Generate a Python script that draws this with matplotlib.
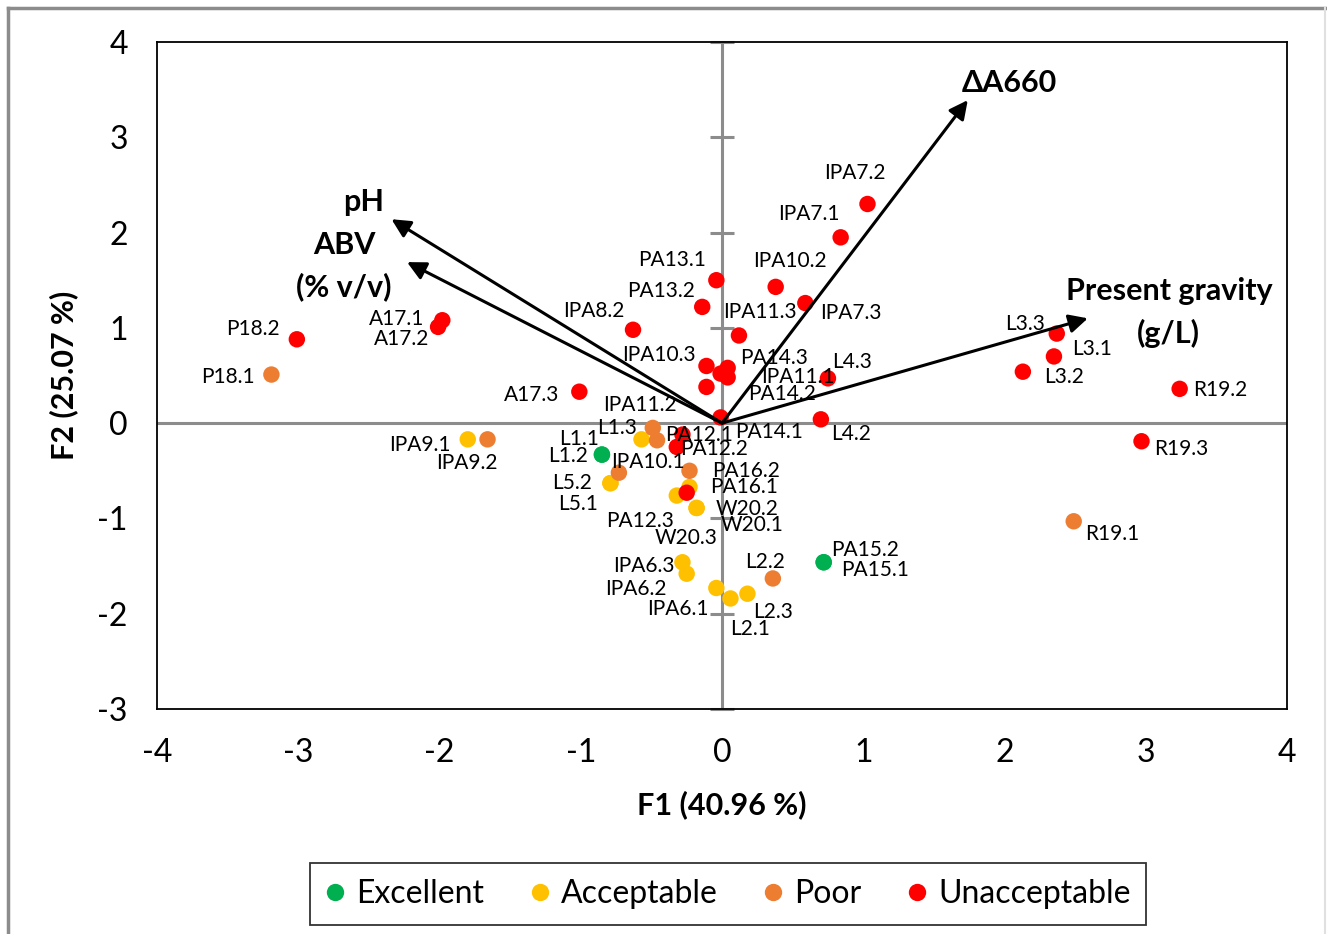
import numpy as np
import matplotlib
matplotlib.use('Agg')
import matplotlib.pyplot as plt
from matplotlib.lines import Line2D

plt.rcParams['font.family'] = ['Lato', 'DejaVu Sans']
plt.rcParams['axes.unicode_minus'] = False

# sample scores (F1, F2) and sensory class
names = ['PA15.2', 'PA15.1', 'L1.1', 'L1.2',
         'IPA9.1', 'L1.3', 'L5.2', 'L5.1', 'PA16.1', 'W20.1', 'W20.2', 'W20.3',
         'IPA6.3', 'IPA6.2', 'IPA6.1', 'L2.1', 'L2.3',
         'P18.1', 'IPA9.2', '', '', 'IPA10.1', 'PA16.2', 'L2.2', 'R19.1',
         'IPA7.2', 'IPA7.1', 'IPA10.2', 'IPA7.3', 'PA13.1', 'PA13.2', 'IPA8.2',
         'IPA11.3', 'IPA10.3', 'PA14.3', 'IPA11.1', 'PA14.2', 'IPA11.2', 'PA14.1',
         'L4.3', 'L4.2', 'A17.3', 'A17.1', 'A17.2', 'P18.2', 'L3.3', 'L3.1', 'L3.2',
         'R19.2', 'R19.3', 'PA12.1', 'PA12.2', 'PA12.3']
f1 = [0.72, 0.72, -0.85, -0.85,
      -1.80, -0.57, -0.79, -0.79, -0.23, -0.32, -0.18, -0.18,
      -0.28, -0.25, -0.04, 0.06, 0.18,
      -3.19, -1.66, -0.49, -0.46, -0.73, -0.23, 0.36, 2.49,
      1.03, 0.84, 0.38, 0.59, -0.04, -0.14, -0.63,
      0.12, -0.11, 0.04, 0.04, -0.01, -0.11, -0.01,
      0.75, 0.70, -1.01, -1.98, -2.01, -3.01, 2.37, 2.35, 2.13,
      3.24, 2.97, -0.28, -0.32, -0.25]
f2 = [-1.46, -1.46, -0.33, -0.33,
      -0.17, -0.17, -0.63, -0.63, -0.67, -0.76, -0.89, -0.89,
      -1.46, -1.58, -1.73, -1.84, -1.79,
      0.51, -0.17, -0.05, -0.18, -0.52, -0.50, -1.63, -1.03,
      2.30, 1.95, 1.43, 1.26, 1.50, 1.22, 0.98,
      0.92, 0.60, 0.58, 0.48, 0.52, 0.38, 0.06,
      0.47, 0.04, 0.33, 1.08, 1.01, 0.88, 0.94, 0.70, 0.54,
      0.36, -0.19, -0.12, -0.25, -0.73]
quality = ['Excellent'] * 4 + ['Acceptable'] * 13 + ['Poor'] * 8 + ['Unacceptable'] * 28

classes = ['Excellent', 'Acceptable', 'Poor', 'Unacceptable']
class_colors = ['#00B050', '#FFC000', '#ED7D31', '#FF0000']

# loadings of the variables
variables = ['ΔA660', 'pH', 'ABV\n(% v/v)', 'Present gravity\n(g/L)']
load_f1 = [1.74, -2.34, -2.23, 2.59]
load_f2 = [3.39, 2.14, 1.69, 1.10]

# label placement (offset pixels from the point)
label_off = {
    'IPA7.2': (-13, 31), 'IPA7.1': (-32, 23), 'IPA10.2': (14, 26), 'IPA7.3': (46, -10),
    'PA13.1': (-44, 20), 'PA13.2': (-41, 16), 'IPA8.2': (-39, 19), 'IPA11.3': (21, 23),
    'IPA10.3': (-48, 11), 'PA14.3': (46, 10), 'IPA11.1': (70, 0), 'PA14.2': (61, -20),
    'IPA11.2': (-67, -18), 'PA14.1': (48, -15), 'L4.3': (24, 16), 'L4.2': (30, -15),
    'A17.3': (-48, -3), 'A17.1': (-46, 1), 'A17.2': (-36, -12), 'P18.2': (-44, 10),
    'P18.1': (-43, -2), 'L3.3': (-32, 10), 'L3.1': (38, 7), 'L3.2': (41, -5),
    'R19.2': (41, -1), 'R19.3': (40, -8), 'R19.1': (39, -13), 'IPA9.1': (-48, -6),
    'IPA9.2': (-21, -24), 'L1.1': (-23, 16), 'L1.2': (-34, -1), 'L1.3': (-24, 11),
    'IPA10.1': (29, 11), 'PA12.1': (17, 0), 'PA12.2': (37, -2), 'L5.2': (-38, 0),
    'L5.1': (-32, -21), 'PA16.2': (57, 0), 'PA16.1': (55, 0), 'W20.2': (51, -1),
    'W20.1': (75, -29), 'W20.3': (-10, -30), 'PA12.3': (-47, -28), 'IPA6.3': (-39, -4),
    'IPA6.2': (-51, -15), 'IPA6.1': (-38, -21), 'L2.2': (-8, 16), 'L2.3': (26, -18),
    'L2.1': (20, -31), 'PA15.2': (41, 12), 'PA15.1': (51, -8),
}
var_off = [(42, 17), (-28, 17), (-63, -4), (81, 6)]

fig = plt.figure(figsize=(13.27, 9.34), dpi=100)
ax = fig.add_axes([157/1327, 1-709/934, (1287-157)/1327, (709-42)/934])
ax.set_xlim(-4, 4)
ax.set_ylim(-3, 4)
ax.set_xticks(range(-4, 5))
ax.set_yticks(range(-3, 5))
ax.tick_params(length=0, pad=21, labelsize=23)
for s in ax.spines.values():
    s.set_linewidth(1.3)
    s.set_color('black')

gray = '#8C8C8C'
ax.axhline(0, color=gray, lw=2.2, zorder=1)
ax.axvline(0, color=gray, lw=2.2, zorder=1)
ax.plot(np.zeros(8), range(-3, 5), ls='none', marker='_', ms=17, mew=2.2, color=gray, zorder=1, clip_on=False)

f1 = np.array(f1)
f2 = np.array(f2)
quality = np.array(quality)
for c, col in zip(classes, class_colors):
    m = quality == c
    ax.scatter(f1[m], f2[m], s=140, color=col, edgecolors='none', zorder=3, label=c)

for n, x, y in zip(names, f1, f2):
    if n:
        dx, dy = label_off[n]
        ax.annotate(n, (x, y), xytext=(dx, dy), textcoords='offset pixels',
                    ha='center', va='center', fontsize=15, zorder=5)

for v, x, y, off in zip(variables, load_f1, load_f2, var_off):
    ax.annotate('', xy=(x, y), xytext=(0, 0),
                arrowprops=dict(arrowstyle='-|>', color='black', lw=2.2,
                                mutation_scale=28, shrinkA=0, shrinkB=0), zorder=4)
    lines = v.split('\n')
    for i, line in enumerate(lines):
        dy = off[1] + (len(lines) - 1) * 21 - i * 42
        ax.annotate(line, (x, y), xytext=(off[0], dy), textcoords='offset pixels',
                    ha='center', va='center', fontsize=22, fontweight='bold', zorder=5)

ax.set_xlabel('F1 (40.96 %)', fontsize=22, fontweight='bold', labelpad=16)
ax.set_ylabel('F2 (25.07 %)', fontsize=22, fontweight='bold', labelpad=14)

handles = [Line2D([], [], ls='none', marker='o', ms=12.5, color=col, mec='none') for col in class_colors]
leg = fig.legend(handles, classes, loc='center', bbox_to_anchor=(728/1327, 1-894/934),
                 ncol=4, fontsize=23, frameon=True, fancybox=False, edgecolor='black',
                 handlelength=0.6, handletextpad=0.35, columnspacing=1.45, borderpad=0.5)
leg.get_frame().set_linewidth(1.3)

# outer border of the figure
fig.add_artist(Line2D([8/1327, 1], [1-8/934, 1-8/934], color=gray, lw=2.5))
fig.add_artist(Line2D([8/1327, 8/1327], [0, 1-8/934], color=gray, lw=2.5))
fig.add_artist(Line2D([1325/1327, 1325/1327], [0, 1-8/934], color='#E0E0E0', lw=1.5))

fig.savefig('out.png', dpi=100)
